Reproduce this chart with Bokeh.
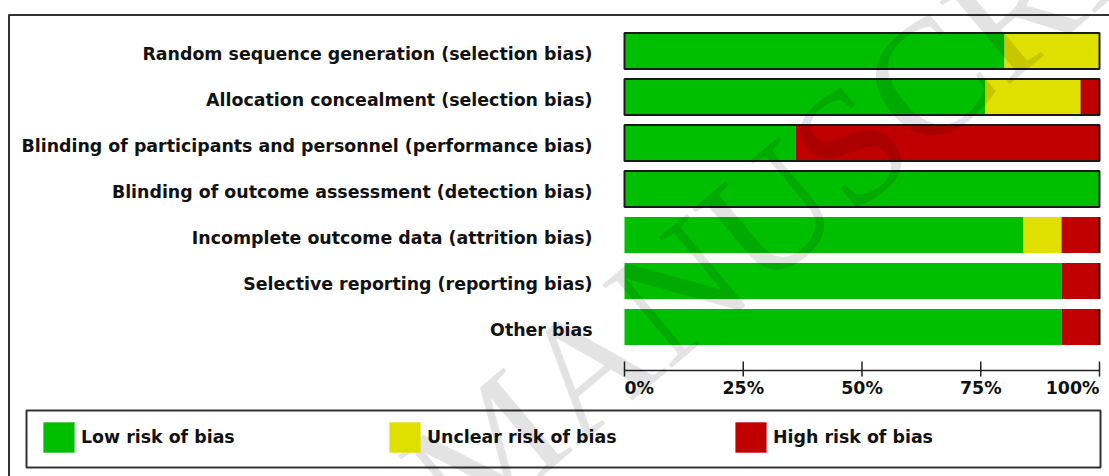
import numpy as np
from bokeh.plotting import figure
from bokeh.models import Range1d, Legend, LegendItem
from bokeh.embed import file_html
from bokeh.resources import INLINE
from bokeh.core.properties import value

# ---------------- data ----------------
domains = [
    "Random sequence generation (selection bias)",
    "Allocation concealment (selection bias)",
    "Blinding of participants and personnel (performance bias)",
    "Blinding of outcome assessment (detection bias)",
    "Incomplete outcome data (attrition bias)",
    "Selective reporting (reporting bias)",
    "Other bias",
]
low_risk = [80, 76, 36, 100, 84, 92, 92]
unclear_risk = [20, 20, 0, 0, 8, 0, 0]
high_risk = [0, 4, 64, 0, 8, 8, 8]
tick_values = [0, 25, 50, 75, 100]
tick_labels = ["0%", "25%", "50%", "75%", "100%"]
legend_labels = ["Low risk of bias", "Unclear risk of bias", "High risk of bias"]

# ---------------- styles ----------------
GREEN, YELLOW, RED = "#00BF00", "#E0E000", "#C00000"
FONT = value("DejaVu Sans")
FS = "17.4px"
INK = "#111111"

W, H = 1109, 476
X0, X100 = 624.0, 1099.0          # px of 0% and 100%
PPU = (X100 - X0) / 100.0
ROW0, PITCH = 50.5, 46.0           # px of first row centre, row pitch


def dx(c):
    return (c - X0) / PPU


def dy(c):
    return (c - ROW0) / PITCH


p = figure(width=W, height=H, output_backend="svg", toolbar_location=None,
           x_range=Range1d(dx(0), dx(W)), y_range=Range1d(dy(H), dy(0)),
           x_axis_location=None, y_axis_location=None, min_border=0,
           outline_line_color=None, background_fill_color="white",
           border_fill_color="white")
p.xgrid.visible = False
p.ygrid.visible = False

rows = np.arange(len(domains))
low = np.array(low_risk, dtype=float)
unc = np.array(unclear_risk, dtype=float)
hig = np.array(high_risk, dtype=float)
total = low + unc + hig
BH = 0.78

r_low = p.hbar(y=rows, left=0, right=low, height=BH, fill_color=GREEN, line_color=None)
r_unc = p.hbar(y=rows, left=low, right=low + unc, height=BH, fill_color=YELLOW, line_color=None)
r_hig = p.hbar(y=rows, left=low + unc, right=total, height=BH, fill_color=RED, line_color=None)

# bar outlines (first four rows framed, last three only right edge as in original)
p.hbar(y=rows[:4], left=0, right=total[:4], height=BH, fill_color=None,
       line_color="#1a1a1a", line_width=2)
p.segment(x0=total[4:], y0=rows[4:] - BH / 2, x1=total[4:], y1=rows[4:] + BH / 2,
          line_color="#1a1a1a", line_width=2)

# category labels
p.text(x=dx(592), y=rows, text=domains, text_align="right", text_baseline="middle",
       y_offset=3, text_font=FONT, text_font_style="bold", text_font_size=FS,
       text_color=INK)

# x axis drawn through the same scale
AX_Y = dy(370)
p.segment(x0=[tick_values[0]], y0=[AX_Y], x1=[tick_values[-1]], y1=[AX_Y],
          line_color="#222222", line_width=1.5)
p.segment(x0=tick_values, y0=dy(361), x1=tick_values, y1=dy(376),
          line_color="#222222", line_width=1.5)
LAB_Y = dy(387)
common = dict(text_baseline="middle", text_font=FONT, text_font_style="bold",
              text_font_size=FS, text_color=INK)
p.text(x=tick_values[:1], y=LAB_Y, text=tick_labels[:1], text_align="left", **common)
p.text(x=tick_values[1:-1], y=LAB_Y, text=tick_labels[1:-1], text_align="center", **common)
p.text(x=tick_values[-1:], y=LAB_Y, text=tick_labels[-1:], text_align="right", **common)

# outer frame (top and left edges visible in the original crop)
p.line(x=[dx(8), dx(W)], y=[dy(14.5), dy(14.5)], line_color="#333333", line_width=2)
p.line(x=[dx(8.5), dx(8.5)], y=[dy(14), dy(H)], line_color="#333333", line_width=2)

# legend frame
p.quad(left=dx(26), right=dx(1100), top=dy(410), bottom=dy(467),
       fill_color=None, line_color="#333333", line_width=2)

# legend
legend = Legend(
    items=[LegendItem(label=legend_labels[0], renderers=[r_low]),
           LegendItem(label=legend_labels[1], renderers=[r_unc]),
           LegendItem(label=legend_labels[2], renderers=[r_hig])],
    orientation="horizontal", location=(39, 20), padding=10, spacing=0,
    margin=0, glyph_width=39, glyph_height=38, label_standoff=3,
    label_width=304, label_text_font="DejaVu Sans", label_text_font_style="bold",
    label_text_font_size=FS, label_text_color=INK,
    border_line_color=None, background_fill_alpha=0.0)
p.add_layout(legend, "center")

# watermark
p.text(x=dx(1243), y=dy(-185), text=["ACCEPTED MANUSCRIPT"], angle=0.698,
       text_align="right", text_baseline="middle",
       text_font=value("Liberation Serif"), text_font_size="165px",
       text_color="black", text_alpha=0.11, level="overlay")

open("out.html", "w").write(file_html(p, INLINE))
